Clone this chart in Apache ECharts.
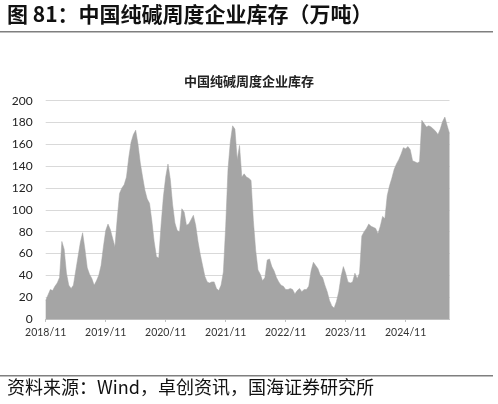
<!DOCTYPE html>
<html>
<head>
<meta charset="utf-8">
<script src="https://cdn.jsdelivr.net/npm/echarts@6/dist/echarts.min.js"></script>
<style>
html, body { margin: 0; padding: 0; background: #fff; }
#chart { width: 498px; height: 404px; }
</style>
</head>
<body>
<div id="chart"></div>
<script>
// weekly inventory sampled every two weeks, starting 2018/11/02 (万吨)
const startDay = Date.UTC(2018, 10, 2)
const stepDays = 14
const inventory = [
	17, 22, 27, 26, 30, 33, 38, 71, 64, 42,
	31, 28, 31, 44, 57, 70, 79, 64, 47, 41,
	37, 31, 35, 40, 49, 66, 81, 87, 82, 74,
	66, 92, 115, 120, 123, 130, 148, 162, 169, 173,
	160, 143, 130, 118, 110, 106, 90, 71, 57, 56,
	86, 112, 130, 142, 128, 105, 88, 81, 80, 101,
	98, 86, 87, 91, 95, 86, 71, 59, 49, 39,
	34, 33, 34, 34, 28, 26, 31, 43, 85, 137,
	162, 177, 174, 146, 159, 130, 133, 130, 129, 127,
	90, 63, 45, 41, 35, 38, 54, 55, 48, 44,
	38, 34, 31, 30, 27, 27, 28, 27, 23, 26,
	28, 25, 27, 27, 30, 44, 52, 49, 46, 40,
	38, 31, 25, 17, 12, 10, 16, 25, 39, 48,
	42, 34, 33, 34, 42, 37, 42, 76, 80, 83,
	87, 85, 84, 83, 78, 85, 94, 92, 113, 122,
	129, 137, 142, 146, 151, 157, 156, 158, 155, 145,
	144, 143, 144, 182, 179, 176, 177, 176, 174, 172,
	169, 174, 181, 185, 177, 170
]
const tickYears = [2018, 2019, 2020, 2021, 2022, 2023, 2024]
const tickLabels = ["2018/11", "2019/11", "2020/11", "2021/11", "2022/11", "2023/11", "2024/11"]

function fmt(t) {
	let d = new Date(t)
	let m = d.getUTCMonth() + 1, day = d.getUTCDate()
	return d.getUTCFullYear() + "/" + (m < 10 ? "0" + m : m) + "/" + (day < 10 ? "0" + day : day)
}

let times = inventory.map((v, i) => startDay + i * stepDays * 864e5)
let dates = times.map(fmt)

// place each year's tick on the sample nearest to 1 November
let tickAt = {}
tickYears.forEach((y, k) => {
	let target = Date.UTC(y, 10, 1), best = 0
	for (let i = 0; i < times.length; i++)
		if (Math.abs(times[i] - target) < Math.abs(times[best] - target))
			best = i
	tickAt[best] = tickLabels[k]
})

let chart = echarts.init(document.getElementById("chart"))
let cjk = '"Noto Sans CJK SC", sans-serif'

let option = {
	animation: false,
	backgroundColor: "#fff",
	title: {
		text: "中国纯碱周度企业库存",
		left: "center",
		top: 70,
		textStyle: {fontFamily: cjk, fontSize: 13, fontWeight: "bold", color: "#222"}
	},
	grid: {left: 45.7, right: 48.5, top: 100.7, bottom: 85},
	xAxis: {
		type: "category",
		data: dates,
		boundaryGap: false,
		axisLine: {lineStyle: {color: "#bfbfbf", width: 1}},
		axisTick: {
			interval: idx => idx in tickAt,
			length: 3,
			lineStyle: {color: "#bfbfbf"}
		},
		axisLabel: {
			interval: idx => idx in tickAt,
			formatter: (val, idx) => tickAt[idx] || "",
			margin: 8,
			fontFamily: "Lato",
			fontSize: 10.5,
			color: "#333"
		},
		splitLine: {show: false}
	},
	yAxis: {
		type: "value",
		min: 0,
		max: 200,
		interval: 20,
		axisLine: {show: false},
		axisTick: {show: false},
		axisLabel: {margin: 13, fontFamily: "Lato", fontSize: 12, color: "#222"},
		splitLine: {lineStyle: {color: "#d9d9d9", width: 1}}
	},
	series: [{
		name: "中国纯碱周度企业库存",
		type: "line",
		data: inventory,
		showSymbol: false,
		lineStyle: {width: 0.5, color: "#a5a5a5"},
		areaStyle: {color: "#a5a5a5", opacity: 1}
	}],
	graphic: [
		{
			type: "text",
			left: 7,
			top: 4,
			style: {text: "图 81：中国纯碱周度企业库存（万吨）", font: "bold 21px " + cjk, fill: "#111"}
		},
		{type: "rect", shape: {x: 0, y: 31, width: 493, height: 1.6}, style: {fill: "#7f7f7f"}},
		{type: "rect", shape: {x: 0, y: 375, width: 493, height: 1.6}, style: {fill: "#7f7f7f"}},
		{
			type: "text",
			left: 7,
			top: 378,
			style: {text: "资料来源：Wind，卓创资讯，国海证券研究所", font: "18px " + cjk, fill: "#111"}
		}
	]
}
chart.setOption(option)
window.onresize = chart.resize
</script>
</body>
</html>
